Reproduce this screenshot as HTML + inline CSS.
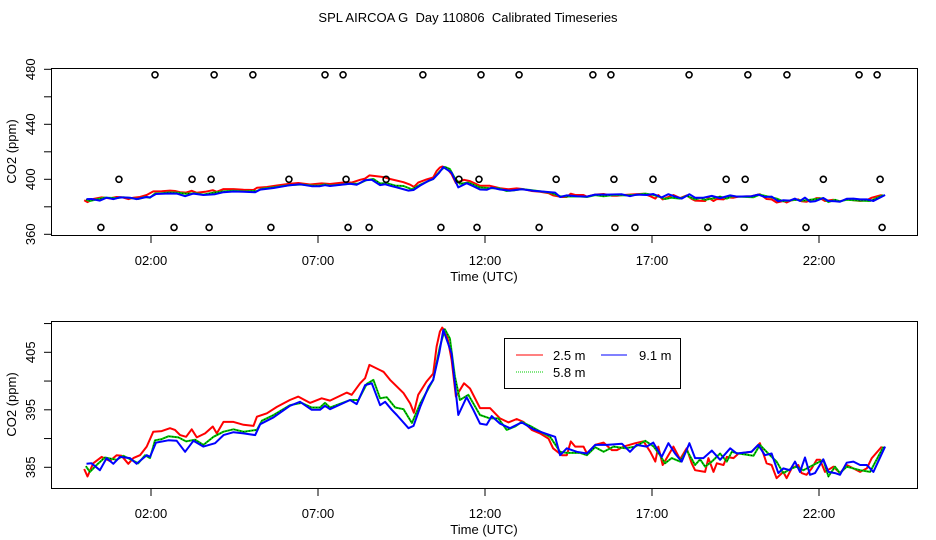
<!DOCTYPE html>
<html><head><meta charset="utf-8"><style>
html,body{margin:0;padding:0;background:#fff;}
svg{display:block;font-family:"Liberation Sans",sans-serif;}
</style></head><body>
<svg id="chart" width="936" height="540" viewBox="0 0 936 540">
<text x="468" y="22" text-anchor="middle" font-size="13" xml:space="preserve">SPL AIRCOA G  Day 110806  Calibrated Timeseries</text>
<g id="top"></g>
<g id="bot"></g>
<g>
<rect x="504.5" y="338.5" width="176" height="50" fill="#fff" stroke="#000"/>
<line x1="516" y1="355" x2="543" y2="355" stroke="#f00" stroke-width="1"/>
<text x="553" y="360" font-size="13">2.5 m</text>
<line x1="601" y1="355" x2="627" y2="355" stroke="#00f" stroke-width="1"/>
<text x="639" y="360" font-size="13">9.1 m</text>
<line x1="516" y1="372" x2="543" y2="372" stroke="#0c0" stroke-width="1" stroke-dasharray="1,1"/>
<text x="553" y="377" font-size="13">5.8 m</text>
</g>
</svg>
<script>
const hoursRed=[0,0.1,0.27,0.52,0.77,0.97,1.12,1.32,1.47,1.67,
1.87,2.07,2.32,2.57,2.72,2.87,3.05,3.22,3.37,3.62,
3.85,3.97,4.17,4.47,4.77,5.07,5.17,5.47,5.77,6.16,
6.41,6.76,7.11,7.36,7.86,8.01,8.26,8.41,8.54,8.96,
9.16,9.56,9.76,9.87,10.0,10.25,10.45,10.55,10.65,10.72,
10.85,11.0,11.13,11.37,11.55,11.85,12.15,12.45,12.7,12.95,
13.15,13.4,13.65,13.9,14.04,14.3,14.45,14.57,14.7,14.95,
15.05,15.3,15.55,15.8,15.95,16.15,16.5,16.75,16.95,17.1,
17.19,17.32,17.44,17.64,17.84,18.04,18.19,18.29,18.59,18.69,
18.84,18.94,19.14,19.24,19.44,19.59,19.98,20.23,20.43,20.58,
20.73,20.93,21.03,21.18,21.38,21.48,21.63,21.78,21.93,22.03,
22.18,22.43,22.63,22.83,23.23,23.43,23.58,23.88];
const co2Red=[384.7,383.4,385.7,386.8,386.1,387.1,387,385.6,386.6,387.1,
388.6,391.2,391.3,391.8,391.5,390.6,390.3,391.6,390.2,390.9,
392.1,390.9,392.9,392.9,392.4,392.2,393.8,394.4,395.5,396.7,
397.3,396.2,397,396.6,398,397.6,399.6,400.5,402.8,401.6,
400.2,397.9,396.1,394.5,397.6,399.9,401.3,406,408.6,409.3,
408.3,403.7,397.3,399.6,398.7,395.3,395.3,393.5,392.8,393.4,
392.9,391.5,390.9,390,388.3,387.1,387.1,389.5,388.6,388.6,
387.4,388.9,389.3,388,388,388.6,389.2,389.5,387.7,386,
388.6,385.4,386.6,388.6,386.4,388.3,385.7,384.5,384.2,386.6,
384.2,385.7,385.4,386.8,386.6,387.4,387.7,389.2,385.7,385.4,
383.1,384.2,383.1,384.8,385.4,384,383.7,384.8,386.3,386.3,
384.2,385.1,384,385.4,384.2,384.8,386.6,388.6];
const hoursGreen=[0.05,0.17,0.37,0.62,0.97,1.17,1.62,1.82,1.97,2.12,
2.32,2.52,2.82,3.05,3.32,3.57,3.87,4.17,4.47,4.77,
5.17,5.32,5.67,6.16,6.51,6.81,7.06,7.21,7.36,7.96,
8.21,8.46,8.66,8.86,9.06,9.31,9.56,9.81,10.06,10.45,
10.65,10.8,10.95,11.1,11.25,11.5,11.85,12.15,12.4,12.65,
12.9,13.1,13.35,13.75,13.95,14.25,14.45,14.85,15.05,15.3,
15.55,15.85,16.2,16.5,16.8,17.05,17.24,17.39,17.59,17.84,
18.04,18.29,18.44,18.59,18.79,19.04,19.24,19.39,19.59,20.04,
20.23,20.48,20.73,20.93,21.18,21.33,21.53,21.83,22.13,22.28,
22.48,22.63,22.83,23.23,23.53,23.93];
const co2Green=[385.2,384.2,385.4,386.7,386.3,387,385.7,387.1,386.6,389.7,
389.9,390.4,390.2,389.5,389.8,388.9,390.3,391.2,391.6,391.2,
391.5,393.1,394.1,395.8,396.2,395.4,395.4,396.2,395.4,396.7,
396.7,399.5,400.2,397,397.2,395.4,395.1,392.7,396.1,400.2,
406,409,407.4,400.8,396.7,397.6,394.1,393.5,393.5,391.5,
392.1,392.9,392.2,390.9,390.3,387.7,387.5,387.5,387.1,388.5,
387.7,388.6,388.3,388.6,389.6,388.6,387.1,385.7,386.6,386,
388,385.4,386.4,385.1,386,387.4,386,387.7,387.4,387,
388.9,387.4,386,384,384.8,385.1,384.5,385.4,386.3,383.4,
385.1,384,385.1,384.5,384.2,388.6];
const hoursBlue=[0.07,0.22,0.47,0.67,0.87,1.07,1.37,1.57,1.87,1.97,
2.15,2.52,2.77,3.02,3.27,3.57,3.92,4.17,4.47,4.77,
5.12,5.27,5.67,6.16,6.46,6.81,7.06,7.21,7.36,7.96,
8.16,8.41,8.61,8.86,9.01,9.21,9.36,9.71,9.86,10.06,
10.31,10.45,10.63,10.75,11.0,11.2,11.45,11.65,11.85,12.05,
12.2,12.45,12.75,13.1,13.45,13.8,14.1,14.25,14.45,14.75,
15.05,15.3,15.65,16.1,16.34,16.54,16.84,17.04,17.29,17.49,
17.69,17.89,18.12,18.29,18.54,18.79,19.04,19.34,19.54,19.98,
20.18,20.38,20.58,20.78,20.93,21.13,21.28,21.43,21.58,21.73,
21.88,22.13,22.28,22.48,22.63,22.83,23.03,23.23,23.43,23.63,
23.98];
const co2Blue=[385.6,385.7,384.5,386.6,385.6,386.8,386.6,385.6,387.1,386.8,
389.3,389.7,389.6,387.7,389.6,388.6,389.2,390.6,391.1,390.9,
390.6,392.5,393.7,395.7,396.4,395,395,395.7,395.1,396.7,
396,399.3,399.6,395.8,396.4,395,394.1,391.8,392.2,395.5,
399,400.2,404.8,408.9,404.8,394.1,397.2,395,392.6,392.4,
393.9,392.6,391.8,392.8,391.6,390.9,390.3,387.1,388.3,387.7,
387.4,388.9,388.9,389.1,387.7,388.9,388.6,389.3,386.8,389.2,
387.4,386,389.2,386.6,386.6,387.9,386.3,388.3,387.4,387.7,
388.9,387.1,387.4,384,384.8,384.5,386,384.2,386.7,383.7,
384,386.4,384.2,384,383.7,385.8,386,385.4,385.4,384.2,
388.6];
const flagHoursHigh=[2.12,3.89,5.05,7.21,7.75,10.14,11.88,13.02,15.23,15.77,18.11,19.87,21.04,23.2,23.74];
const flagHoursMid=[1.04,3.23,3.8,6.13,7.84,9.04,11.22,11.82,14.13,15.86,17.03,19.22,19.79,22.13,23.83];
const flagHoursLow=[0.5,2.69,3.74,5.59,7.9,8.53,10.68,11.76,13.62,15.89,16.49,18.67,19.76,21.61,23.89];
const flagValues=[476,400,365];
const xTickHours=[2,7,12,17,22];
const xTickLabels=["02:00","07:00","12:00","17:00","22:00"];
const topTicks=[360,380,400,420,440,460,480];
const topTickLabels=["360","","400","","440","","480"];
const botTicks=[385,390,395,400,405,410];
const botTickLabels=["385","","395","","405",""];

const NS="http://www.w3.org/2000/svg";
function mk(parent,tag,attrs){const e=document.createElementNS(NS,tag);for(const k in attrs)e.setAttribute(k,attrs[k]);parent.appendChild(e);return e;}
const xScale=h=>84.2+h*33.4;
const L=51,R=917;

function panel(g,top,bottom,yScale,ticks,labels){
  const box=mk(g,'rect',{x:L+0.5,y:top+0.5,width:R-L,height:bottom-top,fill:'none',stroke:'#000'});
  
  
  ticks.forEach((t,i)=>{
    const y=yScale(t);
    const tl=mk(g,'line',{x1:L-7,x2:L,y1:y,y2:y,stroke:'#000'});
    
    
    if(labels[i]){
      const tx=mk(g,'text',{x:0,y:0,'font-size':13,'text-anchor':'middle',transform:`translate(35,${y}) rotate(-90)`});
      tx.textContent=labels[i];
      
      
    }
  });
  xTickHours.forEach((h,i)=>{
    const x=xScale(h);
    const tl=mk(g,'line',{x1:x,x2:x,y1:bottom,y2:bottom+8,stroke:'#000'});
    
    
    const tx=mk(g,'text',{x:x,y:bottom+30,'font-size':13,'text-anchor':'middle'});
    tx.textContent=xTickLabels[i];
    
    
  });
  const xt=mk(g,'text',{x:484,y:bottom+46,'font-size':13,'text-anchor':'middle'});
  xt.textContent='Time (UTC)';
  
  
  const yt=mk(g,'text',{x:0,y:0,'font-size':13,'text-anchor':'middle',transform:`translate(16,${(top+bottom)/2}) rotate(-90)`});
  yt.textContent='CO2 (ppm)';
  
  
}
function series(g,hs,vs,yScale,color,name,dotted){
  const d=hs.map((h,i)=>(i?'L':'M')+xScale(h).toFixed(1)+','+yScale(vs[i]).toFixed(1)).join('');
  const p=mk(g,'path',{d:d,fill:'none',stroke:color,'stroke-width':2,'stroke-linejoin':'round'});
  
  
  if(dotted){
    const q=mk(g,'path',{d:d,fill:'none',stroke:'#000','stroke-width':0.8,'stroke-dasharray':'1,2'});
    
    
  }
}
const topG=document.getElementById('top');
const yTop=v=>234.3-(v-360)*1.375;
panel(topG,68,235,yTop,topTicks,topTickLabels);
series(topG,hoursRed,co2Red,yTop,'#f00','series-2-5m',false);
series(topG,hoursGreen,co2Green,yTop,'#0c0','series-5-8m',true);
series(topG,hoursBlue,co2Blue,yTop,'#00f','series-9-1m',false);
[flagHoursHigh,flagHoursMid,flagHoursLow].forEach((arr,k)=>{
  arr.forEach(h=>{
    const c=mk(topG,'circle',{cx:xScale(h),cy:yTop(flagValues[k]),r:3,fill:'none',stroke:'#000','stroke-width':1.6});
    
    
  });
});
const botG=document.getElementById('bot');
const yBot=v=>467.3-(v-385)*5.75;
panel(botG,321,488,yBot,botTicks,botTickLabels);
series(botG,hoursRed,co2Red,yBot,'#f00','series-2-5m',false);
series(botG,hoursGreen,co2Green,yBot,'#0c0','series-5-8m',true);
series(botG,hoursBlue,co2Blue,yBot,'#00f','series-9-1m',false);
</script>
</body></html>
